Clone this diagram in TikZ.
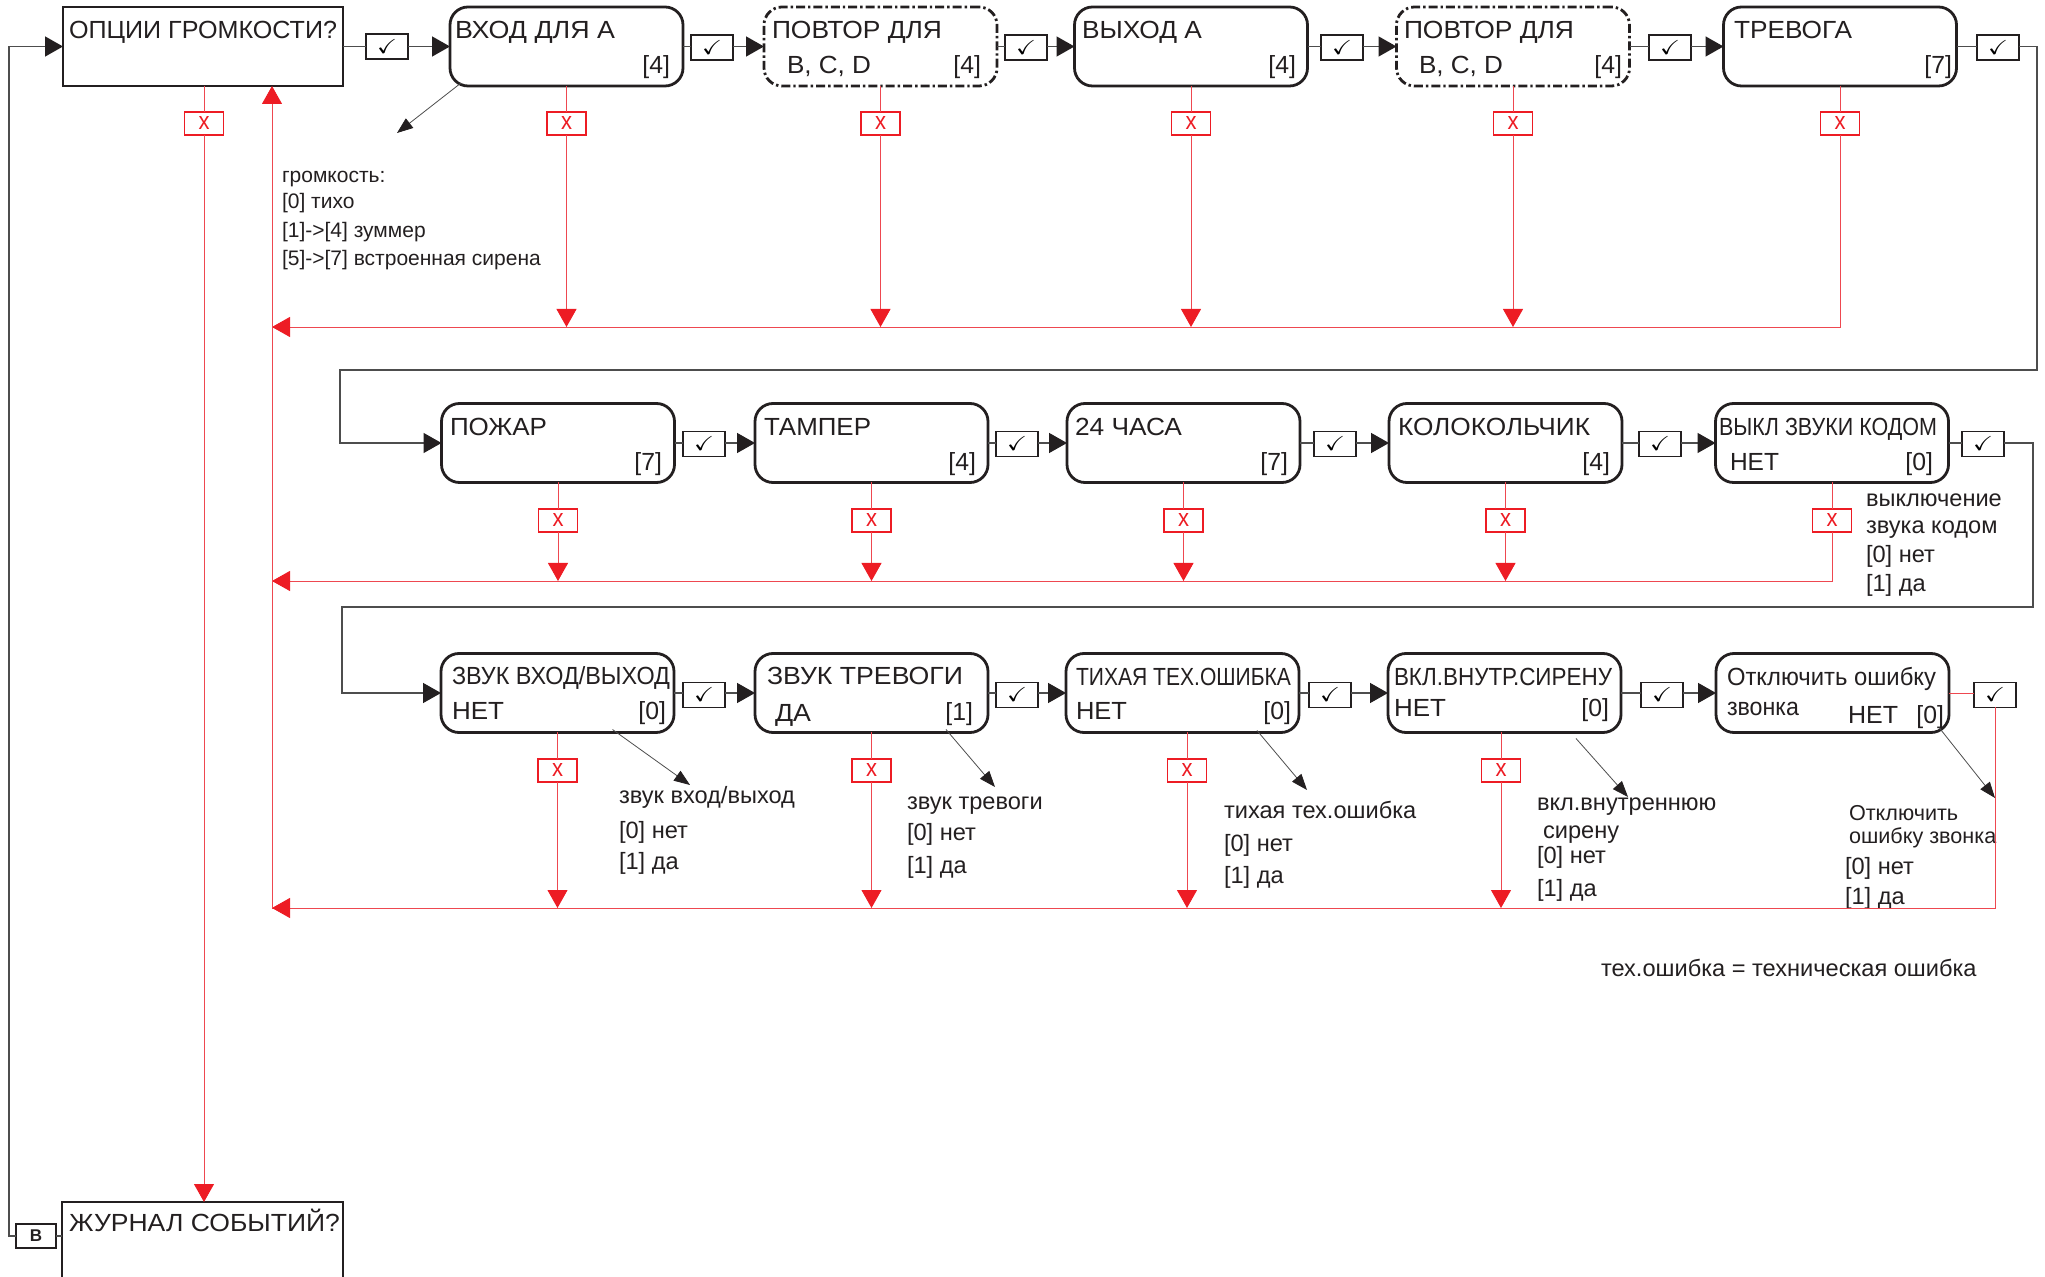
\documentclass[tikz,border=0pt]{standalone}
\usepackage{amssymb}
\usepackage{fontspec}
\setmainfont{Liberation Sans}
\usepackage{graphicx}
\usetikzlibrary{arrows.meta,calc}
\definecolor{ink}{HTML}{231F20}
\definecolor{conn}{HTML}{4D4D4D}
\definecolor{rd}{HTML}{ED1C24}
\definecolor{rdl}{HTML}{EE4850}
\newcommand{\fw}[2]{\resizebox{#1pt}{\height}{#2}}
\begin{document}
\begin{tikzpicture}[x=0.5pt,y=-0.5pt,
  every node/.style={inner sep=0pt, outer sep=0pt},
  menubox/.style={draw=ink, line width=1.4pt, rounded corners=9pt, minimum width=116.5pt, minimum height=39.5pt, fill=white},
  menudash/.style={menubox, dash pattern=on 4.5pt off 1.5pt on 1.2pt off 1.5pt},
  sqbox/.style={draw=ink, line width=1.4pt, minimum width=140pt, minimum height=39.5pt},
  okbox/.style={draw=ink, line width=0.8pt, fill=white, minimum width=21pt, minimum height=12.5pt},
  nobox/.style={draw=rd, line width=0.8pt, fill=white, minimum width=19.5pt, minimum height=11.5pt, text=rd, font=\fontsize{13}{13}\selectfont},
  btxt/.style={font=\fontsize{12.4}{14}\selectfont, text=ink, anchor=base west},
  btxtr/.style={btxt, anchor=base east},
  ntxt/.style={font=\fontsize{11.8}{13}\selectfont, text=ink, anchor=base west},
  gtxt/.style={font=\fontsize{10.5}{12}\selectfont, text=ink, anchor=base west},
  stxt/.style={font=\fontsize{10.8}{12}\selectfont, text=ink, anchor=base west},
  flow/.style={draw=conn, line width=0.75pt},
  flowarr/.style={flow, -{Triangle[length=9pt,width=10pt,color=ink]}},
  rl/.style={draw=rdl, line width=0.45pt},
  rlarr/.style={rl, -{Triangle[length=9pt,width=10pt,color=rd]}},
  ann/.style={draw=conn, line width=0.4pt, -{Triangle[length=8pt,width=6pt,color=ink]}}
]
\useasboundingbox (0,0) rectangle (2045,1277);
\newcommand{\ok}{\resizebox{10pt}{7pt}{$\checkmark$}}
\newcommand{\no}{\resizebox{5.5pt}{6.5pt}{x}}

% ---------- row 1 ----------
\node[sqbox] (A0) at (203,46.5) {};
\node[menubox] (A1) at (566.5,46.5) {};
\node[menudash] (A2) at (880.5,46.5) {};
\node[menubox] (A3) at (1191,46.5) {};
\node[menudash] (A4) at (1513,46.5) {};
\node[menubox] (A5) at (1840,46.5) {};

\node[btxt] (tA0) at (69,39) {\fw{134}{ОПЦИИ ГРОМКОСТИ?}};
\node[btxt] (tA1) at (455,39) {\fw{80}{ВХОД ДЛЯ А}};
\node[btxtr] (rA1) at (670,74) {[4]};
\node[btxt] (tA2) at (772,39) {\fw{85}{ПОВТОР ДЛЯ}};
\node[btxt] (uA2) at (787,74) {\fw{42}{B, C, D}};
\node[btxtr] (rA2) at (981,74) {[4]};
\node[btxt] (tA3) at (1082,39) {\fw{60}{ВЫХОД А}};
\node[btxtr] (rA3) at (1296,74) {[4]};
\node[btxt] (tA4) at (1404,39) {\fw{85}{ПОВТОР ДЛЯ}};
\node[btxt] (uA4) at (1419,74) {\fw{42}{B, C, D}};
\node[btxtr] (rA4) at (1622,74) {[4]};
\node[btxt] (tA5) at (1734,39) {\fw{59}{ТРЕВОГА}};
\node[btxtr] (rA5) at (1952,74) {[7]};

\node[okbox] (k0) at (387,46.5) {\ok};
\node[okbox] (k1) at (712,47.5) {\ok};
\node[okbox] (k2) at (1026,47.5) {\ok};
\node[okbox] (k3) at (1342,47.5) {\ok};
\node[okbox] (k4) at (1670,47.5) {\ok};
\node[okbox] (k5) at (1998,47.5) {\ok};

\node[nobox] (xA0) at (204,123.5) {\no};
\node[nobox] (xA1) at (566.5,123.5) {\no};
\node[nobox] (xA2) at (880.5,123.5) {\no};
\node[nobox] (xA3) at (1191,123.5) {\no};
\node[nobox] (xA4) at (1513,123.5) {\no};
\node[nobox] (xA5) at (1840,123.5) {\no};

% ---------- row 2 ----------
\node[menubox] (B1) at (558,443) {};
\node[menubox] (B2) at (871.5,443) {};
\node[menubox] (B3) at (1183.5,443) {};
\node[menubox] (B4) at (1505.5,443) {};
\node[menubox] (B5) at (1832,443) {};

\node[btxt] (tB1) at (450,436) {\fw{48.5}{ПОЖАР}};
\node[btxtr] (rB1) at (662,471) {[7]};
\node[btxt] (tB2) at (764,436) {\fw{53.5}{ТАМПЕР}};
\node[btxtr] (rB2) at (976,471) {[4]};
\node[btxt] (tB3) at (1075,436) {\fw{53.5}{24 ЧАСА}};
\node[btxtr] (rB3) at (1288,471) {[7]};
\node[btxt] (tB4) at (1398,436) {\fw{96}{КОЛОКОЛЬЧИК}};
\node[btxtr] (rB4) at (1610,471) {[4]};
\node[btxt] (tB5) at (1719,436) {\fw{109}{ВЫКЛ ЗВУКИ КОДОМ}};
\node[btxt] (uB5) at (1730,471) {\fw{24.5}{НЕТ}};
\node[btxtr] (rB5) at (1933,471) {[0]};

\node[okbox] (m1) at (704,444) {\ok};
\node[okbox] (m2) at (1017,444) {\ok};
\node[okbox] (m3) at (1335,444) {\ok};
\node[okbox] (m4) at (1660,444) {\ok};
\node[okbox] (m5) at (1983,444) {\ok};

\node[nobox] (xB1) at (558,520.5) {\no};
\node[nobox] (xB2) at (871.5,520.5) {\no};
\node[nobox] (xB3) at (1183.5,520.5) {\no};
\node[nobox] (xB4) at (1505.5,520.5) {\no};
\node[nobox] (xB5) at (1832,520.5) {\no};

% ---------- row 3 ----------
\node[menubox] (C1) at (557.5,693) {};
\node[menubox] (C2) at (871.5,693) {};
\node[menubox] (C3) at (1182.5,693) {};
\node[menubox] (C4) at (1504.5,693) {};
\node[menubox] (C5) at (1832.5,693) {};

\node[btxt] (tC1) at (452,685) {\fw{109}{ЗВУК ВХОД/ВЫХОД}};
\node[btxt] (uC1) at (452,719) {\fw{26}{НЕТ}};
\node[btxtr] (rC1) at (666,719) {[0]};
\node[btxt] (tC2) at (767,685) {\fw{98}{ЗВУК ТРЕВОГИ}};
\node[btxt] (uC2) at (775,721) {\fw{18}{ДА}};
\node[btxtr] (rC2) at (973,721) {[1]};
\node[btxt] (tC3) at (1076,686) {\fw{107.5}{ТИХАЯ ТЕХ.ОШИБКА}};
\node[btxt] (uC3) at (1076,719) {\fw{25.5}{НЕТ}};
\node[btxtr] (rC3) at (1291,719) {[0]};
\node[btxt] (tC4) at (1394,686) {\fw{109}{ВКЛ.ВНУТР.СИРЕНУ}};
\node[btxt] (uC4) at (1394,717) {\fw{26}{НЕТ}};
\node[btxtr] (rC4) at (1609,717) {[0]};
\node[btxt] (tC5) at (1727,686) {\fw{104.5}{Отключить ошибку}};
\node[btxt] (uC5) at (1727,716) {\fw{36}{звонка}};
\node[btxt] (vC5) at (1848,724) {\fw{25}{НЕТ}};
\node[btxtr] (rC5) at (1944,724) {[0]};

\node[okbox] (n1) at (704,695) {\ok};
\node[okbox] (n2) at (1017,695) {\ok};
\node[okbox] (n3) at (1330,695) {\ok};
\node[okbox] (n4) at (1662,695) {\ok};
\node[okbox] (n5) at (1995,695) {\ok};

\node[nobox] (xC1) at (557.5,770.5) {\no};
\node[nobox] (xC2) at (871.5,770.5) {\no};
\node[nobox] (xC3) at (1187,770.5) {\no};
\node[nobox] (xC4) at (1501,770.5) {\no};

% ---------- journal ----------
\node[anchor=north west, minimum width=140.5pt, minimum height=37.5pt] (J) at (62,1202) {};
\draw[draw=ink, line width=1.4pt] (J.south west) |- (J.north east) -- (J.south east);
\node[btxt] (tJ) at (69,1231) {\fw{135.5}{ЖУРНАЛ СОБЫТИЙ?}};
\node[draw=ink, line width=1pt, minimum width=20pt, minimum height=12pt, font=\bfseries\fontsize{8.5}{8.5}\selectfont, text=ink] (Bk) at (36,1236) {В};

% ---------- annotation texts ----------
\node[gtxt] (g1) at (282,182.5) {громкость:};
\node[gtxt] (g2) at (282,208.5) {[0] тихо};
\node[gtxt] (g3) at (282,237.5) {[1]->[4] зуммер};
\node[gtxt] (g4) at (282,265.5) {[5]->[7] встроенная сирена};
\node[ntxt] (v1) at (1866,507) {выключение};
\node[ntxt] (v2) at (1866,534) {звука кодом};
\node[ntxt] (v3) at (1866,563) {[0] нет};
\node[ntxt] (v4) at (1866,592) {[1] да};
\node[ntxt] (e1) at (619,804) {звук вход/выход};
\node[ntxt] (e2) at (619,838) {[0] нет};
\node[ntxt] (e3) at (619,869) {[1] да};
\node[ntxt] (s1) at (907,809) {звук тревоги};
\node[ntxt] (s2) at (907,840) {[0] нет};
\node[ntxt] (s3) at (907,873) {[1] да};
\node[ntxt] (q1) at (1224,818) {тихая тех.ошибка};
\node[ntxt] (q2) at (1224,851) {[0] нет};
\node[ntxt] (q3) at (1224,883) {[1] да};
\node[ntxt] (w1t) at (1537,811) {вкл.внутреннюю};
\node[ntxt] (w2t) at (1543,838) {сирену};
\node[ntxt] (w3t) at (1537,863) {[0] нет};
\node[ntxt] (w4t) at (1537,896) {[1] да};
\node[stxt] (o1) at (1849,820) {Отключить};
\node[stxt] (o2) at (1849,843) {ошибку звонка};
\node[ntxt] (o3) at (1845,874) {[0] нет};
\node[ntxt] (o4) at (1845,904) {[1] да};
\node[ntxt] (note) at (1601,976) {тех.ошибка = техническая ошибка};

% ---------- flow connectors ----------
\draw[flowarr] (Bk.west) -- ++(-7,0) |- (A0.west);
\draw[flow] (Bk.east) -- (Bk.east -| J.west);

\draw[flow] (A0.east) -- (k0.west); \draw[flowarr] (k0.east) -- (A1.west);
\draw[flow] (A1.east) -- (A1.east -| k1.west); \draw[flowarr] (k1.east |- A2.west) -- (A2.west);
\draw[flow] (A2.east) -- (A2.east -| k2.west); \draw[flowarr] (k2.east |- A3.west) -- (A3.west);
\draw[flow] (A3.east) -- (A3.east -| k3.west); \draw[flowarr] (k3.east |- A4.west) -- (A4.west);
\draw[flow] (A4.east) -- (A4.east -| k4.west); \draw[flowarr] (k4.east |- A5.west) -- (A5.west);
\draw[flow] (A5.east) -- (A5.east -| k5.west);

\coordinate (w1) at (2037,370);
\coordinate (w2) at (340,370);
\draw[flowarr] (k5.east |- A5.east) -| (w1) -- (w2) |- (B1.west);

\draw[flow] (B1.east) -- (B1.east -| m1.west); \draw[flowarr] (m1.east |- B2.west) -- (B2.west);
\draw[flow] (B2.east) -- (B2.east -| m2.west); \draw[flowarr] (m2.east |- B3.west) -- (B3.west);
\draw[flow] (B3.east) -- (B3.east -| m3.west); \draw[flowarr] (m3.east |- B4.west) -- (B4.west);
\draw[flow] (B4.east) -- (B4.east -| m4.west); \draw[flowarr] (m4.east |- B5.west) -- (B5.west);
\draw[flow] (B5.east) -- (B5.east -| m5.west);

\coordinate (w3) at (2033,607);
\coordinate (w4) at (342,607);
\draw[flowarr] (m5.east |- B5.east) -| (w3) -- (w4) |- (C1.west);

\draw[flow] (C1.east) -- (C1.east -| n1.west); \draw[flowarr] (n1.east |- C2.west) -- (C2.west);
\draw[flow] (C2.east) -- (C2.east -| n2.west); \draw[flowarr] (n2.east |- C3.west) -- (C3.west);
\draw[flow] (C3.east) -- (C3.east -| n3.west); \draw[flowarr] (n3.east |- C4.west) -- (C4.west);
\draw[flow] (C4.east) -- (C4.east -| n4.west); \draw[flowarr] (n4.east |- C5.west) -- (C5.west);
\draw[rl] (C5.east) -- (C5.east -| n5.west);

% ---------- red (cancel) connectors ----------
\coordinate (r1) at (272,327);
\coordinate (r2) at (272,581);
\coordinate (r3) at (272,908);

\draw[rl] (A0.south -| xA0.north) -- (xA0.north); \draw[rlarr] (xA0.south) -- (xA0.south |- J.north);
\foreach \n in {A1,A2,A3,A4}{
  \draw[rl] (\n.south) -- (x\n.north);
  \draw[rlarr] (x\n.south) -- (x\n.south |- r1);
}
\draw[rl] (A5.south) -- (xA5.north); \draw[rl] (xA5.south) |- (r1);

\foreach \n in {B1,B2,B3,B4}{
  \draw[rl] (\n.south) -- (x\n.north);
  \draw[rlarr] (x\n.south) -- (x\n.south |- r2);
}
\draw[rl] (B5.south) -- (xB5.north); \draw[rl] (xB5.south) |- (r2);

\foreach \n in {C1,C2,C3,C4}{
  \draw[rl] (\n.south -| x\n.north) -- (x\n.north);
  \draw[rlarr] (x\n.south) -- (x\n.south |- r3);
}
\draw[rl] (n5.south) |- (r3);
% arrowheads on the left ends of the three return lines
\draw[rlarr] ($(r1)+(20,0)$) -- (r1);
\draw[rlarr] ($(r2)+(20,0)$) -- (r2);
\draw[rlarr] ($(r3)+(20,0)$) -- (r3);
\draw[rlarr] (r3) -- (r3 |- A0.south);

% ---------- annotation arrows ----------
\coordinate (p1) at (397,133);
\coordinate (p2) at (690,785);
\coordinate (p3) at (995,787);
\coordinate (p4) at (1307,790);
\coordinate (p5) at (1628,797);
\coordinate (p6) at (1995,798);
\draw[ann] ($(A1.south west)+(11,-3)$) -- (p1);
\draw[ann] ($(C1.south)+(55,-3)$) -- (p2);
\draw[ann] ($(C2.south)+(74.5,-3)$) -- (p3);
\draw[ann] ($(C3.south)+(74.5,-2)$) -- (p4);
\draw[ann] ($(C4.south)+(71.5,6)$) -- (p5);
\draw[ann] ($(C5.south)+(106.5,-5)$) -- (p6);
\end{tikzpicture}
\end{document}
